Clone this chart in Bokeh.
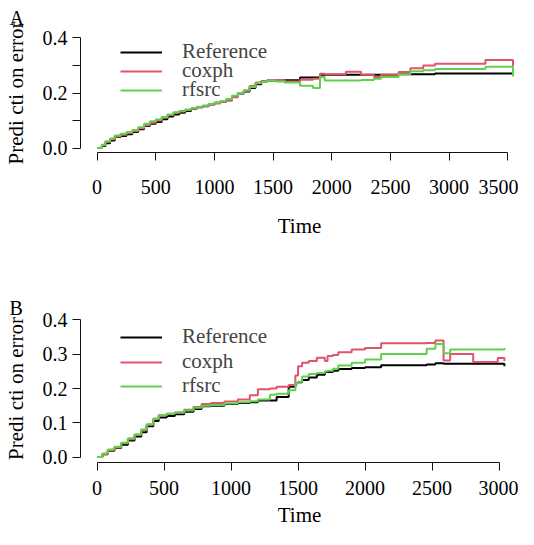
from bokeh.plotting import figure
from bokeh.models import FixedTicker, PrintfTickFormatter, Legend, LegendItem, Range1d, Title
from bokeh.layouts import column
from bokeh.embed import file_html
from bokeh.resources import INLINE

SERIES = ["Reference", "coxph", "rfsrc"]
COLORS = ["#000000", "#DF536B", "#61D04F"]
FONT = "Liberation Serif"

# ---- Panel A data ----
a_time = [0, 40, 70, 110, 150, 200, 250, 300, 350, 400, 450, 500, 550, 600, 650, 700, 750,
          800, 850, 900, 950, 1000, 1050, 1100, 1150, 1200, 1250, 1300, 1350, 1400, 1450,
          1520, 1600, 1730, 1840, 1900, 1940, 2120, 2250, 2360, 2420, 2570, 2670, 2780,
          2880, 3310, 3545]
a_reference = [0.000, 0.008, 0.018, 0.028, 0.040, 0.044, 0.050, 0.058, 0.068, 0.080, 0.088,
               0.095, 0.105, 0.115, 0.122, 0.128, 0.135, 0.143, 0.148, 0.152, 0.158, 0.165,
               0.168, 0.175, 0.188, 0.198, 0.205, 0.218, 0.232, 0.242, 0.245, 0.245, 0.246,
               0.256, 0.256, 0.266, 0.266, 0.266, 0.266, 0.266, 0.266, 0.268, 0.268, 0.268,
               0.271, 0.271, 0.271]
a_coxph = [0.000, 0.010, 0.022, 0.032, 0.042, 0.048, 0.055, 0.062, 0.072, 0.083, 0.092,
           0.100, 0.110, 0.120, 0.128, 0.135, 0.138, 0.143, 0.148, 0.153, 0.157, 0.162,
           0.168, 0.172, 0.185, 0.200, 0.208, 0.225, 0.238, 0.244, 0.246, 0.245, 0.242,
           0.248, 0.252, 0.270, 0.268, 0.277, 0.266, 0.258, 0.266, 0.276, 0.290, 0.300,
           0.306, 0.320, 0.298]
a_rfsrc = [0.000, 0.012, 0.025, 0.035, 0.046, 0.052, 0.058, 0.066, 0.076, 0.088, 0.097,
           0.104, 0.113, 0.122, 0.130, 0.133, 0.140, 0.145, 0.150, 0.155, 0.160, 0.165,
           0.170, 0.178, 0.190, 0.200, 0.210, 0.222, 0.235, 0.240, 0.245, 0.242, 0.238,
           0.226, 0.218, 0.258, 0.245, 0.245, 0.247, 0.252, 0.258, 0.268, 0.279, 0.283,
           0.287, 0.295, 0.260]
a_xticks = [0, 500, 1000, 1500, 2000, 2500, 3000, 3500]
a_yticks = [0.0, 0.2, 0.4]
a_yminor = [0.1, 0.3]

# ---- Panel B data ----
b_time = [0, 40, 80, 130, 180, 230, 280, 330, 370, 420, 460, 520, 580, 650, 720, 780, 850,
          950, 1050, 1140, 1200, 1290, 1340, 1430, 1480, 1500, 1530, 1580, 1640, 1700, 1720,
          1760, 1800, 1900, 2000, 2120, 2460, 2525, 2586, 2635, 2807, 2990, 3040]
b_reference = [0.000, 0.008, 0.018, 0.026, 0.036, 0.048, 0.060, 0.072, 0.090, 0.105, 0.115,
               0.120, 0.125, 0.132, 0.140, 0.148, 0.150, 0.155, 0.158, 0.160, 0.165, 0.165,
               0.175, 0.205, 0.215, 0.218, 0.225, 0.232, 0.240, 0.248, 0.248, 0.252, 0.257,
               0.260, 0.262, 0.268, 0.270, 0.274, 0.272, 0.272, 0.272, 0.272, 0.265]
b_coxph = [0.000, 0.008, 0.020, 0.028, 0.040, 0.052, 0.065, 0.078, 0.095, 0.112, 0.122,
           0.126, 0.130, 0.138, 0.146, 0.155, 0.158, 0.162, 0.168, 0.180, 0.198, 0.200,
           0.205, 0.210, 0.238, 0.265, 0.275, 0.280, 0.290, 0.280, 0.295, 0.298, 0.306,
           0.314, 0.318, 0.332, 0.333, 0.340, 0.282, 0.301, 0.277, 0.289, 0.280]
b_rfsrc = [0.000, 0.010, 0.022, 0.030, 0.042, 0.055, 0.066, 0.080, 0.095, 0.112, 0.122,
           0.126, 0.130, 0.136, 0.144, 0.150, 0.152, 0.156, 0.160, 0.163, 0.168, 0.182,
           0.185, 0.195, 0.215, 0.220, 0.235, 0.242, 0.245, 0.250, 0.252, 0.258, 0.267,
           0.275, 0.285, 0.301, 0.316, 0.330, 0.303, 0.314, 0.314, 0.314, 0.318]
b_xticks = [0, 500, 1000, 1500, 2000, 2500, 3000]
b_yticks = [0.0, 0.1, 0.2, 0.3, 0.4]
b_yminor = []


def make_panel(tag, times, series, xticks, yticks, yminor, xr, yr, height,
               border_top, border_bottom, legend_x, legend_ys, title_standoff,
               xtick_standoff, xlabel_standoff):
    p = figure(width=518, height=height, output_backend="svg", toolbar_location=None,
               x_range=Range1d(*xr), y_range=Range1d(*yr),
               min_border_left=75, min_border_right=0,
               min_border_top=border_top, min_border_bottom=border_bottom)
    p.outline_line_color = None
    p.grid.visible = False
    p.background_fill_color = "white"

    p.title = Title(text=tag, align="left", offset=-71, standoff=title_standoff,
                    text_font=FONT, text_font_size="20px", text_font_style="normal",
                    text_color="black")

    renderers = []
    for vals, col in zip(series, COLORS):
        r = p.step(times, vals, mode="after", line_color=col, line_width=2)
        renderers.append(r)

    xa = p.xaxis[0]
    xa.ticker = FixedTicker(ticks=xticks, minor_ticks=[])
    xa.bounds = (xticks[0], xticks[-1])
    xa.axis_label = "Time"
    xa.axis_label_standoff = xlabel_standoff
    ya = p.yaxis[0]
    ya.ticker = FixedTicker(ticks=yticks, minor_ticks=yminor)
    ya.bounds = (yticks[0], yticks[-1])
    ya.formatter = PrintfTickFormatter(format="%.1f")
    ya.axis_label = "Predi cti on error"
    ya.axis_label_standoff = 12
    for ax in (xa, ya):
        ax.axis_line_color = "#111111"
        ax.major_tick_line_color = "#111111"
        ax.minor_tick_line_color = "#111111"
        ax.major_tick_out = 8
        ax.major_tick_in = 0
        ax.minor_tick_out = 8
        ax.minor_tick_in = 0
        ax.major_label_text_font = FONT
        ax.major_label_text_font_size = "20px"
        ax.major_label_text_color = "black"
        ax.axis_label_text_font = FONT
        ax.axis_label_text_font_size = "21px"
        ax.axis_label_text_font_style = "normal"
        ax.axis_label_text_color = "black"
    xa.major_label_standoff = xtick_standoff
    ya.major_label_standoff = 5
    ya.major_label_orientation = "horizontal"

    # one legend per row, so the row spacing can follow the reference
    for s, r, ly in zip(SERIES, renderers, legend_ys):
        leg = Legend(items=[LegendItem(label=s, renderers=[r])],
                     location=(legend_x, ly), orientation="vertical",
                     border_line_color=None, background_fill_alpha=0,
                     padding=0, margin=0, spacing=0,
                     glyph_width=42, glyph_height=22, label_height=22,
                     label_standoff=20,
                     label_text_font=FONT, label_text_font_size="21px")
        p.add_layout(leg, "center")
    return p


pA = make_panel("A", a_time, [a_reference, a_coxph, a_rfsrc], a_xticks, a_yticks, a_yminor,
                (-141.6, 3592), (-0.016, 0.416), 262, 32, 110,
                40, [88, 69, 50], 9, 19, 17)
pB = make_panel("B", b_time, [b_reference, b_coxph, b_rfsrc], b_xticks, b_yticks, b_yminor,
                (-123.5, 3145), (-0.016, 0.416), 267, 52, 67,
                40, [113, 88, 64], -9, 10, 5)

layout = column(pA, pB, spacing=0)
open("out.html", "w").write(file_html(layout, INLINE))
